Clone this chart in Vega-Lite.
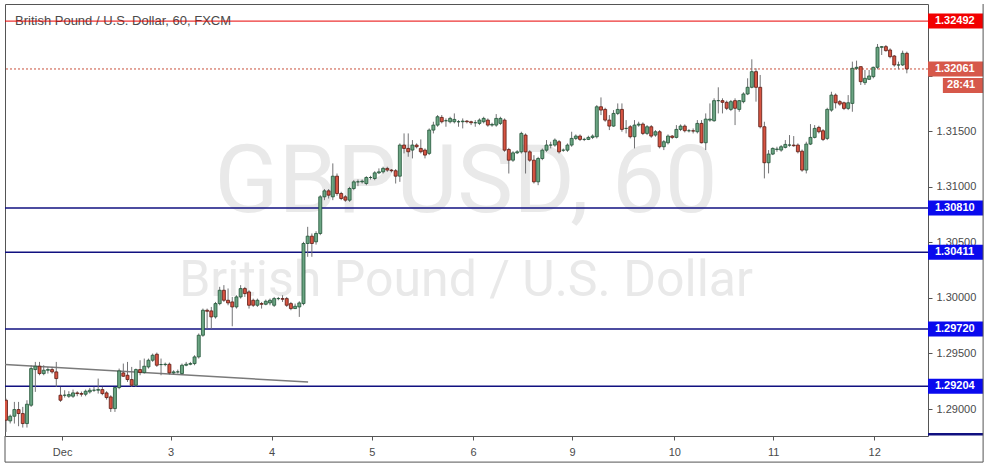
{
  "$schema": "https://vega.github.io/schema/vega-lite/v6.json",
  "width": 923,
  "height": 432,
  "autosize": "none",
  "padding": {"left": 5, "top": 4, "right": 60, "bottom": 31},
  "background": "white",
  "config": {
    "font": "Liberation Sans",
    "view": {"stroke": "#555555", "strokeWidth": 1},
    "axis": {"gridColor": "#e6e6e6", "gridWidth": 1, "domain": false, "tickColor": "#555555", "tickSize": 4, "labelColor": "#4a4a4a", "labelFontSize": 11, "labelFont": "Liberation Sans", "title": null}
  },
  "datasets": {
    "candles": [
      {"i":1,"o":1.29079,"h":1.29094,"l":1.28794,"c":1.28899},
      {"i":2,"o":1.28893,"h":1.28950,"l":1.28870,"c":1.28935},
      {"i":3,"o":1.28935,"h":1.29064,"l":1.28869,"c":1.28995},
      {"i":4,"o":1.28995,"h":1.29064,"l":1.28845,"c":1.28959},
      {"i":5,"o":1.28959,"h":1.29019,"l":1.28833,"c":1.28869},
      {"i":6,"o":1.28869,"h":1.29079,"l":1.28833,"c":1.29043},
      {"i":7,"o":1.29034,"h":1.29394,"l":1.29019,"c":1.29364},
      {"i":8,"o":1.29355,"h":1.29424,"l":1.29154,"c":1.29385},
      {"i":9,"o":1.29385,"h":1.29424,"l":1.29304,"c":1.29319},
      {"i":10,"o":1.29319,"h":1.29394,"l":1.29304,"c":1.29349},
      {"i":11,"o":1.29349,"h":1.29379,"l":1.29319,"c":1.29355},
      {"i":12,"o":1.29355,"h":1.29379,"l":1.29319,"c":1.29334},
      {"i":13,"o":1.29334,"h":1.29424,"l":1.29199,"c":1.29274},
      {"i":14,"o":1.29124,"h":1.29199,"l":1.29064,"c":1.29079},
      {"i":15,"o":1.29124,"h":1.29169,"l":1.29103,"c":1.29124},
      {"i":16,"o":1.29115,"h":1.29160,"l":1.29100,"c":1.29130},
      {"i":17,"o":1.29115,"h":1.29175,"l":1.29100,"c":1.29145},
      {"i":18,"o":1.29145,"h":1.29160,"l":1.29115,"c":1.29139},
      {"i":19,"o":1.29139,"h":1.29157,"l":1.29112,"c":1.29133},
      {"i":20,"o":1.29133,"h":1.29175,"l":1.29115,"c":1.29160},
      {"i":21,"o":1.29154,"h":1.29190,"l":1.29139,"c":1.29169},
      {"i":22,"o":1.29169,"h":1.29200,"l":1.29154,"c":1.29169},
      {"i":23,"o":1.29169,"h":1.29274,"l":1.29139,"c":1.29175},
      {"i":24,"o":1.29175,"h":1.29200,"l":1.29124,"c":1.29139},
      {"i":25,"o":1.29145,"h":1.29160,"l":1.29085,"c":1.29103},
      {"i":26,"o":1.29109,"h":1.29124,"l":1.28974,"c":1.29004},
      {"i":27,"o":1.29004,"h":1.29200,"l":1.28974,"c":1.29193},
      {"i":28,"o":1.29193,"h":1.29364,"l":1.29178,"c":1.29343},
      {"i":29,"o":1.29325,"h":1.29409,"l":1.29289,"c":1.29295},
      {"i":30,"o":1.29304,"h":1.29424,"l":1.29244,"c":1.29265},
      {"i":31,"o":1.29265,"h":1.29379,"l":1.29199,"c":1.29214},
      {"i":32,"o":1.29214,"h":1.29364,"l":1.29199,"c":1.29355},
      {"i":33,"o":1.29355,"h":1.29439,"l":1.29304,"c":1.29328},
      {"i":34,"o":1.29328,"h":1.29454,"l":1.29319,"c":1.29385},
      {"i":35,"o":1.29379,"h":1.29454,"l":1.29364,"c":1.29439},
      {"i":36,"o":1.29439,"h":1.29499,"l":1.29424,"c":1.29484},
      {"i":37,"o":1.29493,"h":1.29508,"l":1.29379,"c":1.29394},
      {"i":38,"o":1.29400,"h":1.29454,"l":1.29304,"c":1.29400},
      {"i":39,"o":1.29400,"h":1.29418,"l":1.29385,"c":1.29403},
      {"i":40,"o":1.29403,"h":1.29418,"l":1.29310,"c":1.29325},
      {"i":41,"o":1.29325,"h":1.29349,"l":1.29310,"c":1.29334},
      {"i":42,"o":1.29334,"h":1.29355,"l":1.29319,"c":1.29334},
      {"i":43,"o":1.29319,"h":1.29409,"l":1.29310,"c":1.29394},
      {"i":44,"o":1.29394,"h":1.29424,"l":1.29385,"c":1.29403},
      {"i":45,"o":1.29403,"h":1.29424,"l":1.29394,"c":1.29409},
      {"i":46,"o":1.29409,"h":1.29484,"l":1.29394,"c":1.29469},
      {"i":47,"o":1.29469,"h":1.29680,"l":1.29454,"c":1.29664},
      {"i":48,"o":1.29664,"h":1.29904,"l":1.29650,"c":1.29889},
      {"i":49,"o":1.29889,"h":1.29904,"l":1.29724,"c":1.29880},
      {"i":50,"o":1.29883,"h":1.29919,"l":1.29724,"c":1.29829},
      {"i":51,"o":1.29829,"h":1.29964,"l":1.29814,"c":1.29949},
      {"i":52,"o":1.29949,"h":1.30100,"l":1.29934,"c":1.30069},
      {"i":53,"o":1.30069,"h":1.30115,"l":1.29964,"c":1.29979},
      {"i":54,"o":1.29979,"h":1.30085,"l":1.29934,"c":1.29955},
      {"i":55,"o":1.29964,"h":1.30009,"l":1.29745,"c":1.29919},
      {"i":56,"o":1.29919,"h":1.30024,"l":1.29904,"c":1.30009},
      {"i":57,"o":1.30009,"h":1.30115,"l":1.29994,"c":1.30084},
      {"i":58,"o":1.30084,"h":1.30099,"l":1.30009,"c":1.30039},
      {"i":59,"o":1.30054,"h":1.30069,"l":1.29904,"c":1.29934},
      {"i":60,"o":1.29979,"h":1.29994,"l":1.29919,"c":1.29934},
      {"i":61,"o":1.29934,"h":1.29994,"l":1.29919,"c":1.29979},
      {"i":62,"o":1.29949,"h":1.29964,"l":1.29904,"c":1.29943},
      {"i":63,"o":1.29943,"h":1.29985,"l":1.29934,"c":1.29970},
      {"i":64,"o":1.29955,"h":1.29994,"l":1.29934,"c":1.29979},
      {"i":65,"o":1.29934,"h":1.30009,"l":1.29919,"c":1.29994},
      {"i":66,"o":1.29994,"h":1.30009,"l":1.29979,"c":1.29994},
      {"i":67,"o":1.29994,"h":1.30024,"l":1.29964,"c":1.29988},
      {"i":68,"o":1.29994,"h":1.30009,"l":1.29919,"c":1.29934},
      {"i":69,"o":1.29949,"h":1.29964,"l":1.29889,"c":1.29904},
      {"i":70,"o":1.29904,"h":1.29949,"l":1.29904,"c":1.29925},
      {"i":71,"o":1.29919,"h":1.29970,"l":1.29829,"c":1.29955},
      {"i":72,"o":1.29949,"h":1.30505,"l":1.29934,"c":1.30490},
      {"i":73,"o":1.30490,"h":1.30640,"l":1.30370,"c":1.30556},
      {"i":74,"o":1.30556,"h":1.30580,"l":1.30370,"c":1.30490},
      {"i":75,"o":1.30505,"h":1.30600,"l":1.30480,"c":1.30580},
      {"i":76,"o":1.30580,"h":1.30925,"l":1.30565,"c":1.30910},
      {"i":77,"o":1.30910,"h":1.30980,"l":1.30880,"c":1.30964},
      {"i":78,"o":1.30964,"h":1.30980,"l":1.30895,"c":1.30925},
      {"i":79,"o":1.30910,"h":1.31211,"l":1.30880,"c":1.31096},
      {"i":80,"o":1.31096,"h":1.31120,"l":1.30920,"c":1.30940},
      {"i":81,"o":1.30940,"h":1.30955,"l":1.30880,"c":1.30895},
      {"i":82,"o":1.30910,"h":1.30925,"l":1.30865,"c":1.30880},
      {"i":83,"o":1.30880,"h":1.31000,"l":1.30865,"c":1.30985},
      {"i":84,"o":1.30985,"h":1.31060,"l":1.30970,"c":1.31045},
      {"i":85,"o":1.31045,"h":1.31066,"l":1.31006,"c":1.31045},
      {"i":86,"o":1.31045,"h":1.31066,"l":1.31030,"c":1.31051},
      {"i":87,"o":1.31030,"h":1.31096,"l":1.31015,"c":1.31084},
      {"i":88,"o":1.31084,"h":1.31099,"l":1.31066,"c":1.31084},
      {"i":89,"o":1.31075,"h":1.31141,"l":1.31060,"c":1.31126},
      {"i":90,"o":1.31126,"h":1.31166,"l":1.31115,"c":1.31135},
      {"i":91,"o":1.31135,"h":1.31181,"l":1.31120,"c":1.31166},
      {"i":92,"o":1.31166,"h":1.31181,"l":1.31135,"c":1.31151},
      {"i":93,"o":1.31151,"h":1.31160,"l":1.31130,"c":1.31145},
      {"i":94,"o":1.31145,"h":1.31160,"l":1.31030,"c":1.31096},
      {"i":95,"o":1.31096,"h":1.31391,"l":1.31045,"c":1.31376},
      {"i":96,"o":1.31376,"h":1.31481,"l":1.31301,"c":1.31346},
      {"i":97,"o":1.31346,"h":1.31481,"l":1.31271,"c":1.31316},
      {"i":98,"o":1.31331,"h":1.31421,"l":1.31256,"c":1.31376},
      {"i":99,"o":1.31376,"h":1.31391,"l":1.31346,"c":1.31361},
      {"i":100,"o":1.31346,"h":1.31427,"l":1.31301,"c":1.31316},
      {"i":101,"o":1.31331,"h":1.31346,"l":1.31256,"c":1.31286},
      {"i":102,"o":1.31301,"h":1.31526,"l":1.31286,"c":1.31511},
      {"i":103,"o":1.31511,"h":1.31586,"l":1.31481,"c":1.31556},
      {"i":104,"o":1.31556,"h":1.31646,"l":1.31541,"c":1.31631},
      {"i":105,"o":1.31625,"h":1.31646,"l":1.31571,"c":1.31586},
      {"i":106,"o":1.31595,"h":1.31616,"l":1.31541,"c":1.31595},
      {"i":107,"o":1.31586,"h":1.31631,"l":1.31571,"c":1.31616},
      {"i":108,"o":1.31586,"h":1.31661,"l":1.31571,"c":1.31607},
      {"i":109,"o":1.31586,"h":1.31601,"l":1.31541,"c":1.31586},
      {"i":110,"o":1.31586,"h":1.31616,"l":1.31526,"c":1.31592},
      {"i":111,"o":1.31592,"h":1.31601,"l":1.31571,"c":1.31586},
      {"i":112,"o":1.31586,"h":1.31595,"l":1.31556,"c":1.31577},
      {"i":113,"o":1.31577,"h":1.31601,"l":1.31541,"c":1.31577},
      {"i":114,"o":1.31571,"h":1.31616,"l":1.31556,"c":1.31601},
      {"i":115,"o":1.31586,"h":1.31631,"l":1.31571,"c":1.31616},
      {"i":116,"o":1.31601,"h":1.31616,"l":1.31541,"c":1.31556},
      {"i":117,"o":1.31556,"h":1.31577,"l":1.31541,"c":1.31562},
      {"i":118,"o":1.31556,"h":1.31655,"l":1.31541,"c":1.31616},
      {"i":119,"o":1.31571,"h":1.31631,"l":1.31556,"c":1.31616},
      {"i":120,"o":1.31601,"h":1.31616,"l":1.31315,"c":1.31330},
      {"i":121,"o":1.31336,"h":1.31351,"l":1.31120,"c":1.31240},
      {"i":122,"o":1.31240,"h":1.31321,"l":1.31225,"c":1.31306},
      {"i":123,"o":1.31306,"h":1.31330,"l":1.31295,"c":1.31315},
      {"i":124,"o":1.31315,"h":1.31496,"l":1.31300,"c":1.31481},
      {"i":125,"o":1.31466,"h":1.31481,"l":1.31120,"c":1.31315},
      {"i":126,"o":1.31315,"h":1.31330,"l":1.31225,"c":1.31240},
      {"i":127,"o":1.31240,"h":1.31285,"l":1.31030,"c":1.31045},
      {"i":128,"o":1.31045,"h":1.31270,"l":1.31015,"c":1.31255},
      {"i":129,"o":1.31255,"h":1.31345,"l":1.31240,"c":1.31330},
      {"i":130,"o":1.31330,"h":1.31421,"l":1.31315,"c":1.31376},
      {"i":131,"o":1.31376,"h":1.31406,"l":1.31346,"c":1.31376},
      {"i":132,"o":1.31376,"h":1.31436,"l":1.31361,"c":1.31421},
      {"i":133,"o":1.31406,"h":1.31421,"l":1.31300,"c":1.31315},
      {"i":134,"o":1.31330,"h":1.31345,"l":1.31315,"c":1.31330},
      {"i":135,"o":1.31330,"h":1.31391,"l":1.31315,"c":1.31376},
      {"i":136,"o":1.31376,"h":1.31496,"l":1.31361,"c":1.31436},
      {"i":137,"o":1.31436,"h":1.31472,"l":1.31421,"c":1.31457},
      {"i":138,"o":1.31457,"h":1.31472,"l":1.31412,"c":1.31427},
      {"i":139,"o":1.31427,"h":1.31442,"l":1.31412,"c":1.31427},
      {"i":140,"o":1.31427,"h":1.31460,"l":1.31421,"c":1.31445},
      {"i":141,"o":1.31445,"h":1.31472,"l":1.31430,"c":1.31457},
      {"i":142,"o":1.31451,"h":1.31736,"l":1.31436,"c":1.31721},
      {"i":143,"o":1.31721,"h":1.31805,"l":1.31646,"c":1.31691},
      {"i":144,"o":1.31697,"h":1.31712,"l":1.31586,"c":1.31601},
      {"i":145,"o":1.31601,"h":1.31646,"l":1.31511,"c":1.31547},
      {"i":146,"o":1.31547,"h":1.31691,"l":1.31541,"c":1.31661},
      {"i":147,"o":1.31661,"h":1.31751,"l":1.31646,"c":1.31697},
      {"i":148,"o":1.31697,"h":1.31751,"l":1.31496,"c":1.31517},
      {"i":149,"o":1.31526,"h":1.31601,"l":1.31481,"c":1.31526},
      {"i":150,"o":1.31541,"h":1.31556,"l":1.31436,"c":1.31451},
      {"i":151,"o":1.31451,"h":1.31601,"l":1.31346,"c":1.31556},
      {"i":152,"o":1.31556,"h":1.31586,"l":1.31541,"c":1.31565},
      {"i":153,"o":1.31565,"h":1.31580,"l":1.31466,"c":1.31481},
      {"i":154,"o":1.31481,"h":1.31556,"l":1.31466,"c":1.31541},
      {"i":155,"o":1.31541,"h":1.31556,"l":1.31442,"c":1.31457},
      {"i":156,"o":1.31466,"h":1.31511,"l":1.31451,"c":1.31496},
      {"i":157,"o":1.31496,"h":1.31511,"l":1.31346,"c":1.31361},
      {"i":158,"o":1.31361,"h":1.31421,"l":1.31331,"c":1.31406},
      {"i":159,"o":1.31397,"h":1.31472,"l":1.31382,"c":1.31457},
      {"i":160,"o":1.31457,"h":1.31466,"l":1.31430,"c":1.31445},
      {"i":161,"o":1.31445,"h":1.31556,"l":1.31436,"c":1.31517},
      {"i":162,"o":1.31517,"h":1.31562,"l":1.31502,"c":1.31547},
      {"i":163,"o":1.31547,"h":1.31562,"l":1.31490,"c":1.31505},
      {"i":164,"o":1.31505,"h":1.31520,"l":1.31490,"c":1.31505},
      {"i":165,"o":1.31505,"h":1.31526,"l":1.31481,"c":1.31502},
      {"i":166,"o":1.31496,"h":1.31601,"l":1.31481,"c":1.31571},
      {"i":167,"o":1.31571,"h":1.31601,"l":1.31391,"c":1.31397},
      {"i":168,"o":1.31397,"h":1.31661,"l":1.31331,"c":1.31610},
      {"i":169,"o":1.31601,"h":1.31751,"l":1.31586,"c":1.31610},
      {"i":170,"o":1.31595,"h":1.31797,"l":1.31586,"c":1.31776},
      {"i":171,"o":1.31776,"h":1.31896,"l":1.31661,"c":1.31776},
      {"i":172,"o":1.31776,"h":1.31797,"l":1.31661,"c":1.31761},
      {"i":173,"o":1.31761,"h":1.31776,"l":1.31691,"c":1.31707},
      {"i":174,"o":1.31697,"h":1.31782,"l":1.31682,"c":1.31767},
      {"i":175,"o":1.31776,"h":1.31797,"l":1.31556,"c":1.31707},
      {"i":176,"o":1.31697,"h":1.31782,"l":1.31676,"c":1.31776},
      {"i":177,"o":1.31767,"h":1.31851,"l":1.31752,"c":1.31836},
      {"i":178,"o":1.31836,"h":1.31977,"l":1.31826,"c":1.31896},
      {"i":179,"o":1.31896,"h":1.32148,"l":1.31887,"c":1.32037},
      {"i":180,"o":1.32037,"h":1.32067,"l":1.31767,"c":1.31896},
      {"i":181,"o":1.31896,"h":1.32007,"l":1.31526,"c":1.31541},
      {"i":182,"o":1.31541,"h":1.31586,"l":1.31076,"c":1.31217},
      {"i":183,"o":1.31217,"h":1.31331,"l":1.31121,"c":1.31295},
      {"i":184,"o":1.31295,"h":1.31355,"l":1.31286,"c":1.31346},
      {"i":185,"o":1.31337,"h":1.31361,"l":1.31316,"c":1.31340},
      {"i":186,"o":1.31331,"h":1.31376,"l":1.31316,"c":1.31361},
      {"i":187,"o":1.31355,"h":1.31421,"l":1.31346,"c":1.31382},
      {"i":188,"o":1.31376,"h":1.31466,"l":1.31361,"c":1.31376},
      {"i":189,"o":1.31376,"h":1.31457,"l":1.31361,"c":1.31370},
      {"i":190,"o":1.31376,"h":1.31391,"l":1.31301,"c":1.31316},
      {"i":191,"o":1.31321,"h":1.31336,"l":1.31136,"c":1.31151},
      {"i":192,"o":1.31151,"h":1.31406,"l":1.31121,"c":1.31385},
      {"i":193,"o":1.31385,"h":1.31565,"l":1.31376,"c":1.31445},
      {"i":194,"o":1.31445,"h":1.31556,"l":1.31436,"c":1.31526},
      {"i":195,"o":1.31535,"h":1.31550,"l":1.31481,"c":1.31496},
      {"i":196,"o":1.31505,"h":1.31520,"l":1.31412,"c":1.31427},
      {"i":197,"o":1.31436,"h":1.31712,"l":1.31421,"c":1.31697},
      {"i":198,"o":1.31691,"h":1.31856,"l":1.31676,"c":1.31826},
      {"i":199,"o":1.31826,"h":1.31841,"l":1.31706,"c":1.31757},
      {"i":200,"o":1.31767,"h":1.31782,"l":1.31730,"c":1.31745},
      {"i":201,"o":1.31757,"h":1.31767,"l":1.31691,"c":1.31706},
      {"i":202,"o":1.31706,"h":1.31826,"l":1.31691,"c":1.31757},
      {"i":203,"o":1.31751,"h":1.32127,"l":1.31676,"c":1.32067},
      {"i":204,"o":1.32067,"h":1.32136,"l":1.32052,"c":1.32076},
      {"i":205,"o":1.32082,"h":1.32082,"l":1.31917,"c":1.31947},
      {"i":206,"o":1.31938,"h":1.32052,"l":1.31917,"c":1.31977},
      {"i":207,"o":1.31968,"h":1.32052,"l":1.31962,"c":1.31998},
      {"i":208,"o":1.31992,"h":1.32082,"l":1.31977,"c":1.32076},
      {"i":209,"o":1.32076,"h":1.32286,"l":1.32058,"c":1.32256},
      {"i":210,"o":1.32256,"h":1.32268,"l":1.32187,"c":1.32262},
      {"i":211,"o":1.32262,"h":1.32277,"l":1.32217,"c":1.32226},
      {"i":212,"o":1.32232,"h":1.32247,"l":1.32157,"c":1.32172},
      {"i":213,"o":1.32178,"h":1.32187,"l":1.32082,"c":1.32097},
      {"i":214,"o":1.32097,"h":1.32127,"l":1.32058,"c":1.32097},
      {"i":215,"o":1.32097,"h":1.32226,"l":1.32088,"c":1.32202},
      {"i":216,"o":1.32202,"h":1.32217,"l":1.32022,"c":1.32061}
    ],
    "levels": [
      {"price": 1.32492, "kind": "res"},
      {"price": 1.32061, "kind": "cur"},
      {"price": 1.30810, "kind": "sup"},
      {"price": 1.30411, "kind": "sup"},
      {"price": 1.29720, "kind": "sup"},
      {"price": 1.29204, "kind": "sup"}
    ]
  },
  "layer": [
    {
      "data": {"values": [{"t": "GBPUSD, 60"}]},
      "mark": {"type": "text", "fontSize": 94, "color": "#e9e9e9", "align": "center", "baseline": "alphabetic", "font": "Roboto"},
      "encoding": {
        "x": {"datum": 110.8, "type": "quantitative", "scale": {"domain": [0.76, 221.05], "nice": false, "zero": false, "padding": 0}, "axis": {"values": [14.4, 40.3, 64.4, 88.3, 112.5, 136.1, 160.5, 184.1, 208.2], "labelExpr": "datum.value < 20 ? 'Dec' : datum.value < 50 ? '3' : datum.value < 70 ? '4' : datum.value < 95 ? '5' : datum.value < 120 ? '6' : datum.value < 145 ? '9' : datum.value < 170 ? '10' : datum.value < 190 ? '11' : '12'", "labelPadding": 6, "labelFontSize": 11}},
        "y": {"datum": 1.30772, "type": "quantitative", "scale": {"domain": [1.28757, 1.32646], "nice": false, "zero": false, "padding": 0}, "axis": {"orient": "right", "values": [1.29, 1.295, 1.30, 1.305, 1.31, 1.315, 1.32, 1.325], "labelExpr": "datum.value > 1.3199 ? '' : format(datum.value, '.5f')", "labelPadding": 4}},
        "text": {"field": "t"}
      }
    },
    {
      "data": {"values": [{"t": "British Pound / U.S. Dollar"}]},
      "mark": {"type": "text", "fontSize": 50, "color": "#e9e9e9", "align": "center", "baseline": "alphabetic", "font": "Roboto"},
      "encoding": {
        "x": {"datum": 110.8, "type": "quantitative"},
        "y": {"datum": 1.30015, "type": "quantitative"},
        "text": {"field": "t"}
      }
    },
    {
      "data": {"values": [{"t": "British Pound / U.S. Dollar, 60, FXCM"}]},
      "mark": {"type": "text", "fontSize": 13, "color": "#4a4a4a", "align": "left", "baseline": "middle", "font": "Liberation Sans"},
      "encoding": {
        "x": {"datum": 3.15, "type": "quantitative"},
        "y": {"datum": 1.32495, "type": "quantitative"},
        "text": {"field": "t"}
      }
    },
    {
      "data": {"values": [{"n": 0.76, "p": 1.29400}, {"n": 73.1, "p": 1.29243}]},
      "mark": {"type": "line", "color": "#7a7a7a", "strokeWidth": 1.5},
      "encoding": {
        "x": {"field": "n", "type": "quantitative"},
        "y": {"field": "p", "type": "quantitative"}
      }
    },
    {
      "data": {"name": "levels"},
      "transform": [{"filter": "datum.kind == 'res'"}],
      "mark": {"type": "rule", "color": "#e80000", "strokeWidth": 1},
      "encoding": {"y": {"field": "price", "type": "quantitative"}}
    },
    {
      "data": {"name": "levels"},
      "transform": [{"filter": "datum.kind == 'sup'"}],
      "mark": {"type": "rule", "color": "#101080", "strokeWidth": 1.5},
      "encoding": {"y": {"field": "price", "type": "quantitative"}}
    },
    {
      "data": {"name": "levels"},
      "transform": [{"filter": "datum.kind == 'cur'"}],
      "mark": {"type": "rule", "color": "#c8503c", "strokeWidth": 1, "strokeDash": [2, 2]},
      "encoding": {"y": {"field": "price", "type": "quantitative"}}
    },
    {
      "data": {"name": "candles"},
      "mark": {"type": "rule", "color": "#737375", "strokeWidth": 1, "clip": true},
      "encoding": {
        "x": {"field": "i", "type": "quantitative"},
        "y": {"field": "l", "type": "quantitative"},
        "y2": {"field": "h"}
      }
    },
    {
      "data": {"name": "candles"},
      "mark": {"type": "bar", "width": 3, "strokeWidth": 0.8, "clip": true},
      "encoding": {
        "x": {"field": "i", "type": "quantitative"},
        "y": {"field": "o", "type": "quantitative"},
        "y2": {"field": "c"},
        "fill": {"condition": {"test": "datum.c >= datum.o", "value": "#6ba583"}, "value": "#d75442"},
        "stroke": {"condition": {"test": "datum.c >= datum.o", "value": "#225437"}, "value": "#5b1a13"}
      }
    },
    {
      "data": {"name": "levels"},
      "mark": {"type": "rule", "strokeWidth": 15, "strokeCap": "butt", "clip": false},
      "encoding": {
        "x": {"datum": 221.05, "type": "quantitative"},
        "x2": {"datum": 234.2},
        "y": {"field": "price", "type": "quantitative"},
        "color": {"field": "kind", "type": "nominal", "scale": {"domain": ["res", "cur", "sup"], "range": ["#f20000", "#d6584a", "#0a0aee"]}, "legend": null}
      }
    },
    {
      "data": {"name": "levels"},
      "mark": {"type": "text", "align": "left", "baseline": "middle", "color": "white", "fontWeight": "bold", "fontSize": 11, "font": "Liberation Sans", "clip": false},
      "encoding": {
        "x": {"datum": 222.7, "type": "quantitative"},
        "y": {"field": "price", "type": "quantitative"},
        "text": {"field": "price", "type": "quantitative", "format": ".5f"}
      }
    },
    {
      "data": {"values": [{"price": 1.32061, "t": "28:41"}]},
      "mark": {"type": "rule", "strokeWidth": 15, "strokeCap": "butt", "color": "#d6584a", "yOffset": 16.5, "clip": false},
      "encoding": {
        "x": {"datum": 224.6, "type": "quantitative"},
        "x2": {"datum": 234.2},
        "y": {"field": "price", "type": "quantitative"}
      }
    },
    {
      "data": {"values": [{"price": 1.32061, "t": "28:41"}]},
      "mark": {"type": "text", "align": "left", "baseline": "middle", "color": "white", "fontWeight": "bold", "fontSize": 11, "font": "Liberation Sans", "yOffset": 16.5, "clip": false},
      "encoding": {
        "x": {"datum": 225.6, "type": "quantitative"},
        "y": {"field": "price", "type": "quantitative"},
        "text": {"field": "t"}
      }
    },
    {
      "data": {"values": [{"price": 1.28772}]},
      "mark": {"type": "rule", "strokeWidth": 2.5, "strokeCap": "butt", "color": "#101080", "clip": false},
      "encoding": {
        "x": {"datum": 221.05, "type": "quantitative"},
        "x2": {"datum": 234.2},
        "y": {"field": "price", "type": "quantitative"}
      }
    },
    {
      "data": {"values": [{"edge": "right"}]},
      "mark": {"type": "rule", "color": "#555555", "strokeWidth": 1, "clip": false},
      "encoding": {
        "x": {"datum": 234.2, "type": "quantitative"},
        "y": {"datum": 1.32646, "type": "quantitative"},
        "y2": {"datum": 1.28522}
      }
    },
    {
      "data": {"values": [{"edge": "bottom"}]},
      "mark": {"type": "rule", "color": "#555555", "strokeWidth": 1, "clip": false},
      "encoding": {
        "x": {"datum": 0.76, "type": "quantitative"},
        "x2": {"datum": 234.2},
        "y": {"datum": 1.28522, "type": "quantitative"}
      }
    },
    {
      "data": {"values": [{"edge": "left"}]},
      "mark": {"type": "rule", "color": "#555555", "strokeWidth": 1, "clip": false},
      "encoding": {
        "x": {"datum": 0.76, "type": "quantitative"},
        "y": {"datum": 1.28757, "type": "quantitative"},
        "y2": {"datum": 1.28522}
      }
    }
  ]
}
